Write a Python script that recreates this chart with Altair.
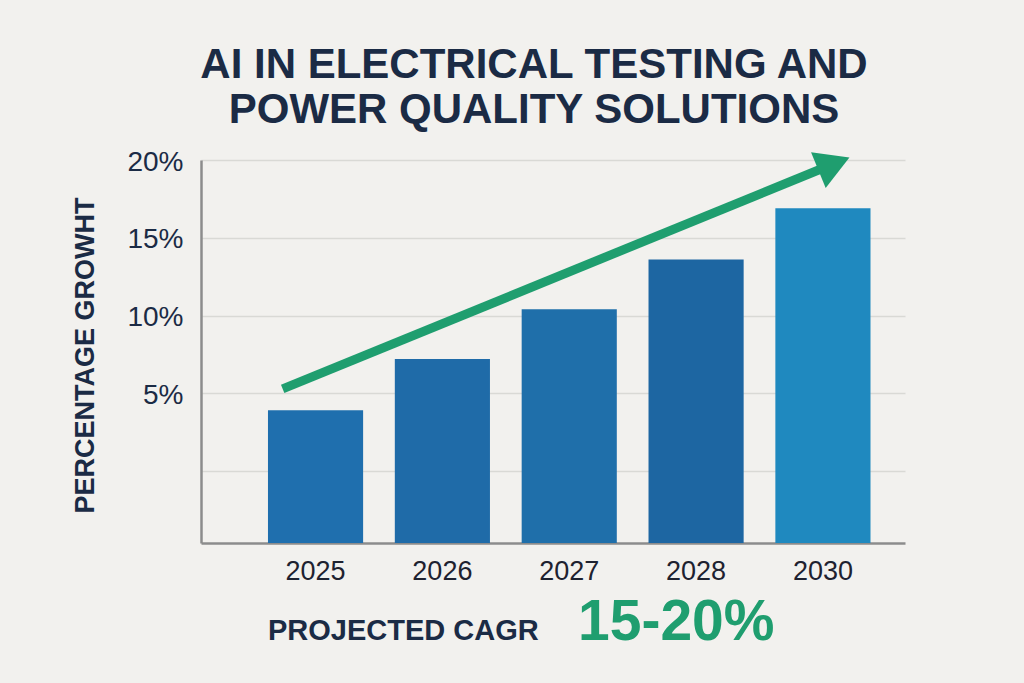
import altair as alt
import pandas as pd

# ---- data ----
years = ["2025", "2026", "2027", "2028", "2030"]
growth = [3.9, 7.2, 10.4, 13.6, 16.9]
bar_colors = ["#1f6fae", "#1f6ba8", "#1f6faa", "#1d66a2", "#1f89bf"]
y_ticks = [0, 5, 10, 15, 20]
y_min, y_max = -4.63, 20

# arrow (x as fraction of the plot width, y in % units)
arrow_x = [0.116, 0.899]
arrow_y = [5.28, 19.76]

title_lines = ["AI IN ELECTRICAL TESTING AND", "POWER QUALITY SOLUTIONS"]
y_title = "PERCENTAGE GROWHT"
cagr_label = "PROJECTED CAGR"
cagr_value = "15-20%"

NAVY = "#1b2b45"
GREEN = "#1f9e6f"
FONT = "Liberation Sans"
W, H = 704, 383

bars_df = pd.DataFrame({"year": years, "growth": growth})
arrow_df = pd.DataFrame({"ax": arrow_x, "ay": arrow_y})
head_df = pd.DataFrame({"ax": [arrow_x[1]], "ay": [arrow_y[1]]})

yscale = alt.Scale(domain=[y_min, y_max], nice=False, zero=False)

bars = alt.Chart(bars_df).mark_bar().encode(
    x=alt.X("year:N", sort=years,
            scale=alt.Scale(paddingInner=0.25, paddingOuter=0.4, align=0.66),
            axis=alt.Axis(title=None, labelAngle=0, labelFontSize=27, labelColor="#1e2230",
                          labelFont=FONT, labelPadding=15, ticks=False, domain=True,
                          domainColor="#8c8c8c", domainWidth=2.5, grid=False)),
    y=alt.Y("growth:Q", scale=yscale,
            axis=alt.Axis(values=y_ticks, title=y_title, titleFont=FONT, titleFontSize=27,
                          titleFontWeight="bold", titleColor=NAVY, titleAngle=-90,
                          titleX=-116, titleY=195, titleAlign="center", titleBaseline="middle",
                          labelExpr="datum.value == 0 ? '' : datum.value + '%'",
                          labelFontSize=28, labelColor=NAVY, labelFont=FONT, labelPadding=18,
                          labelBaseline="middle", labelOffset=2, ticks=False, domain=True,
                          domainColor="#8c8c8c", domainWidth=2.5, grid=True,
                          gridColor="#d9d9d5", gridWidth=1.5)),
    y2=alt.Y2(datum=y_min),
    color=alt.Color("year:N", scale=alt.Scale(domain=years, range=bar_colors), legend=None),
)

xq = alt.Scale(domain=[0, 1], nice=False, zero=False)

arrow_line = alt.Chart(arrow_df).mark_line(color=GREEN, strokeWidth=9, strokeCap="butt").encode(
    x=alt.X("ax:Q", scale=xq, axis=None),
    y=alt.Y("ay:Q", scale=yscale),
)
arrow_head = alt.Chart(head_df).mark_point(shape="triangle-up", filled=True, color=GREEN,
                                           size=1500, angle=67.8, opacity=1).encode(
    x=alt.X("ax:Q", scale=xq, axis=None),
    y=alt.Y("ay:Q", scale=yscale),
)

title = alt.Chart(pd.DataFrame({"t": [title_lines]})).mark_text(
    font=FONT, fontSize=42, fontWeight="bold", color=NAVY, align="center",
    baseline="middle", lineHeight=45
).encode(text="t:N", x=alt.value(333), y=alt.value(-95))

cagr1 = alt.Chart(pd.DataFrame({"t": [cagr_label]})).mark_text(
    font=FONT, fontSize=29, fontWeight="bold", color=NAVY, align="left", baseline="middle"
).encode(text="t:N", x=alt.value(67), y=alt.value(471))

cagr2 = alt.Chart(pd.DataFrame({"t": [cagr_value]})).mark_text(
    font=FONT, fontSize=57, fontWeight="bold", color=GREEN, align="left", baseline="middle"
).encode(text="t:N", x=alt.value(377), y=alt.value(463))

chart = alt.layer(bars, arrow_line, arrow_head, title, cagr1, cagr2).resolve_scale(
    x="independent"
).properties(
    width=W, height=H,
    autosize=alt.AutoSizeParams(type="none"),
    padding={"left": 201, "top": 160, "right": 119, "bottom": 140},
    background="#f2f1ee",
).configure_view(stroke=None)

chart.save("out.html", embed_options={"renderer": "svg", "actions": False})
